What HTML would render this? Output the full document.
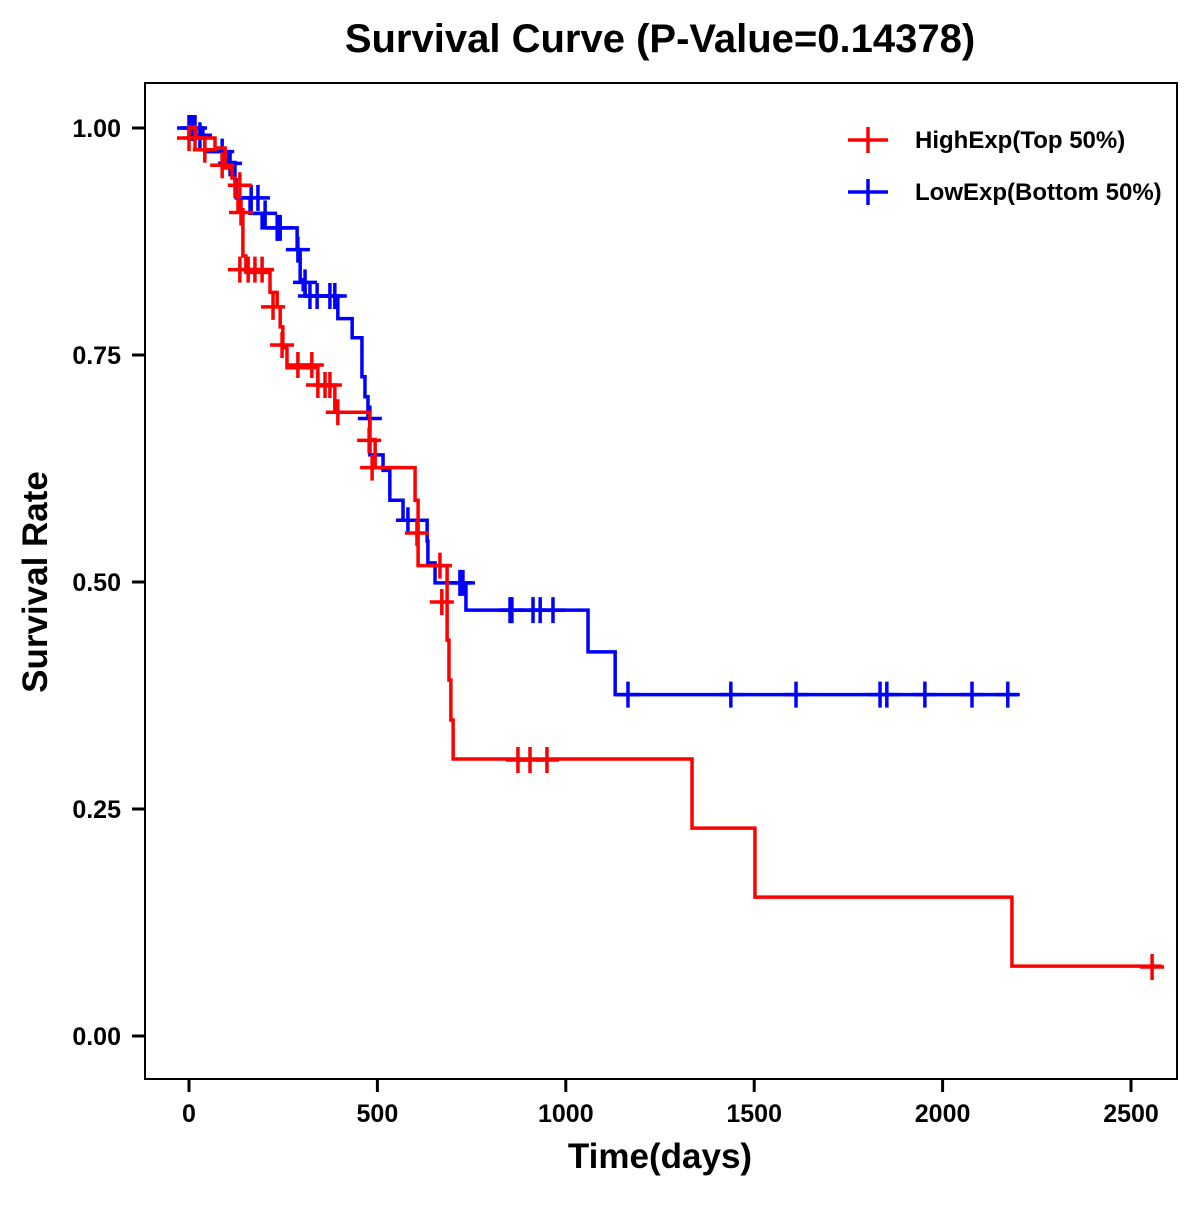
<!DOCTYPE html>
<html><head><meta charset="utf-8"><style>
html,body{margin:0;padding:0;background:#fff}
svg text{font-family:"Liberation Sans",Arial,sans-serif;font-weight:bold}
</style></head><body>
<svg id="chart" width="1200" height="1200" viewBox="0 0 1200 1200" xmlns="http://www.w3.org/2000/svg">
<rect width="1200" height="1200" fill="#fff"/>
<text x="660" y="52" font-size="40" text-anchor="middle">Survival Curve (P-Value=0.14378)</text>
<rect x="145" y="83" width="1032" height="996" fill="none" stroke="#000" stroke-width="2"/>
<g id="axes"></g>
<g id="series"></g>
<text x="660" y="1168" font-size="35" text-anchor="middle">Time(days)</text>
<text transform="translate(47,582) rotate(-90)" font-size="35" text-anchor="middle">Survival Rate</text>
<g>
<g>
<line x1="848" y1="140" x2="888" y2="140" stroke="#f00" stroke-width="3.5"/>
<line x1="868" y1="127" x2="868" y2="153" stroke="#f00" stroke-width="3.5"/>
<text x="915" y="148" font-size="24">HighExp(Top 50%)</text></g>
<g>
<line x1="848" y1="192" x2="888" y2="192" stroke="#00f" stroke-width="3.5"/>
<line x1="868" y1="179" x2="868" y2="205" stroke="#00f" stroke-width="3.5"/>
<text x="915" y="200" font-size="24">LowExp(Bottom 50%)</text></g>
</g>
</svg>
<script>
const xTicks=[0,500,1000,1500,2000,2500];
const yTicks=[0,0.25,0.5,0.75,1.0];
const yTickLabels=["0.00","0.25","0.50","0.75","1.00"];
const highTimes=[19,69,96,114,122,130,143,151,215,234,242,249,260,342,387,480,494,600,608,685,690,695,701,1335,1502,2184];
const highSurv=[0.989,0.978,0.956,0.945,0.925,0.910,0.859,0.841,0.819,0.803,0.781,0.758,0.736,0.716,0.687,0.657,0.626,0.590,0.518,0.436,0.392,0.348,0.305,0.229,0.153,0.077];
const highEnd=2582;
const highCensT=[0,16,42,88,135,138,135,157,175,194,223,247,289,326,342,361,374,395,478,486,605,666,671,873,905,950,2556];
const highCensS=[0.989,0.989,0.976,0.959,0.937,0.907,0.844,0.844,0.844,0.844,0.803,0.761,0.739,0.739,0.717,0.717,0.717,0.687,0.656,0.626,0.554,0.518,0.478,0.304,0.304,0.304,0.076];
const lowTimes=[37,42,104,122,125,162,194,287,295,303,308,395,433,459,467,475,480,515,533,568,632,634,653,735,1059,1131];
const lowSurv=[0.989,0.974,0.962,0.943,0.923,0.906,0.890,0.866,0.833,0.822,0.815,0.790,0.769,0.726,0.704,0.680,0.640,0.623,0.590,0.568,0.545,0.521,0.499,0.469,0.423,0.376];
const lowEnd=2198;
const lowCensT=[0,8,16,29,88,109,165,183,202,234,242,289,308,321,340,374,387,480,581,719,727,852,857,913,932,966,1165,1438,1611,1834,1852,1953,2078,2173];
const lowCensS=[1,1,1,0.992,0.974,0.961,0.923,0.923,0.906,0.890,0.890,0.866,0.830,0.815,0.815,0.815,0.815,0.680,0.568,0.499,0.499,0.469,0.469,0.469,0.469,0.469,0.376,0.376,0.376,0.376,0.376,0.376,0.376,0.376];

const X=t=>189+t*942/2500;
const Y=s=>1036-s*908;
const NS="http://www.w3.org/2000/svg";
function mk(tag,attrs,parent){const e=document.createElementNS(NS,tag);for(const k in attrs)e.setAttribute(k,attrs[k]);parent.appendChild(e);return e;}
const axes=document.getElementById('axes');
xTicks.forEach(v=>{
  const g=mk('g',{},axes);
  
  
  mk('line',{x1:X(v),x2:X(v),y1:1079,y2:1092,stroke:'#000','stroke-width':3},g);
  const t=mk('text',{x:X(v),y:1122,'font-size':25,'text-anchor':'middle'},g);t.textContent=v;
});
yTicks.forEach((v,i)=>{
  const g=mk('g',{},axes);
  
  
  mk('line',{x1:132,x2:145,y1:Y(v),y2:Y(v),stroke:'#000','stroke-width':3},g);
  const t=mk('text',{x:121,y:Y(v)+9,'font-size':25,'text-anchor':'end'},g);t.textContent=yTickLabels[i];
});
const series=document.getElementById('series');
function draw(times,surv,end,ct,cs,color,name){
  const g=mk('g',{},series);
  
  
  let d='M'+X(0)+','+Y(1);
  times.forEach((t,i)=>{d+=' H'+X(t)+' V'+Y(surv[i]);});
  d+=' H'+X(end);
  const p=mk('path',{d:d,fill:'none',stroke:color,'stroke-width':3.5},g);
  
  
  ct.forEach((t,i)=>{
    const x=X(t),y=Y(cs[i]);
    const c=mk('path',{d:`M${x-12},${y} H${x+12} M${x},${y-13} V${y+13}`,stroke:color,'stroke-width':3.5,fill:'none'},g);
    
    
  });
}
draw(lowTimes,lowSurv,lowEnd,lowCensT,lowCensS,'#00f','lowexp-series');
draw(highTimes,highSurv,highEnd,highCensT,highCensS,'#f00','highexp-series');
</script>
</body></html>
